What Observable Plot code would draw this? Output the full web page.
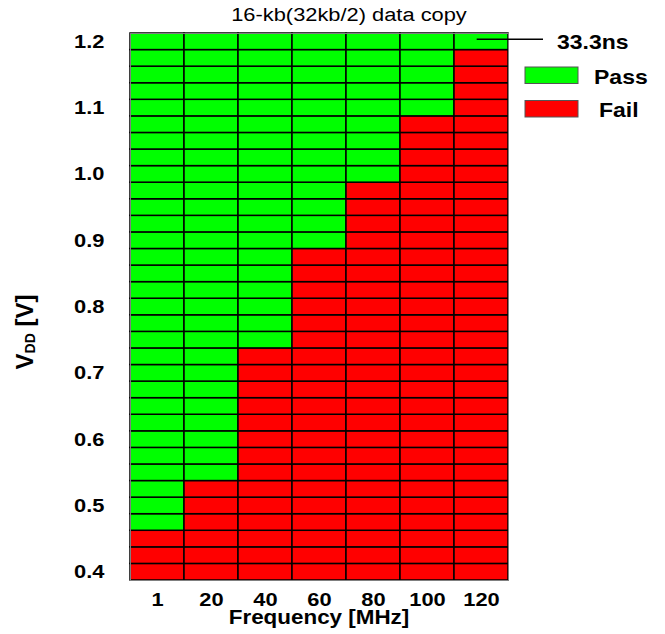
<!DOCTYPE html>
<html><head><meta charset="utf-8">
<script src="https://cdn.jsdelivr.net/npm/d3@7"></script>
<script src="https://cdn.jsdelivr.net/npm/@observablehq/plot@0.6"></script>
<style>body{margin:0;background:#fff} svg{display:block}</style>
</head><body><div id="chart"></div>
<script>
// ---- data ----
const frequencies = ["1", "20", "40", "60", "80", "100", "120"];
const voltages = [0.4, 0.425, 0.45, 0.475, 0.5, 0.525, 0.55, 0.575, 0.6, 0.625, 0.65, 0.675,
  0.7, 0.725, 0.75, 0.775, 0.8, 0.825, 0.85, 0.875, 0.9, 0.925, 0.95, 0.975,
  1.0, 1.025, 1.05, 1.075, 1.1, 1.125, 1.15, 1.175, 1.2];
const minPassVoltage = [0.475, 0.55, 0.75, 0.9, 1.0, 1.1, 1.2];
const yTickValues = [0.4, 0.5, 0.6, 0.7, 0.8, 0.9, 1.0, 1.1, 1.2];
const statusLabels = ["Pass", "Fail"];
const statusColors = ["#00ff00", "#ff0000"];
const titleText = "16-kb(32kb/2) data copy";
const xLabelText = "Frequency [MHz]";
const annotationText = "33.3ns";

const cells = [];
frequencies.forEach((f, i) => voltages.forEach(v =>
  cells.push({freq: f, vdd: v, status: v >= minPassVoltage[i] - 1e-9 ? "Pass" : "Fail"})));

const FONT = "'Liberation Sans', Arial, sans-serif";
const chart = Plot.plot({
  width: 665, height: 634,
  marginLeft: 130, marginRight: 157, marginTop: 33, marginBottom: 54,
  style: {fontFamily: FONT, background: "#fff", color: "#000"},
  x: {type: "band", domain: frequencies, padding: 0, round: false, label: null},
  y: {type: "band", domain: voltages.slice().reverse(), padding: 0, round: false, label: null},
  color: {domain: statusLabels, range: statusColors},
  marks: [
    Plot.cell(cells, {x: "freq", y: "vdd", fill: "status", stroke: "#000", strokeWidth: 1.5}),
    Plot.frame({stroke: "#808080", strokeWidth: 1}),
    Plot.axisX({tickSize: 0, tickPadding: 12, fontSize: 19, fontWeight: "bold", label: null}),
    Plot.axisY({ticks: yTickValues, tickFormat: d => d.toFixed(1), tickSize: 0, tickPadding: 26,
      fontSize: 19, fontWeight: "bold", label: null})
  ]
});

const svg = d3.select(chart);
const xs = chart.scale("x"), ys = chart.scale("y");
const plotLeft = 130, plotRight = 665 - 157;
const topRowMid = ys.apply(1.2) + ys.bandwidth / 2;
const lastColLeft = xs.apply("120");

// annotation
svg.append("line")
  .attr("x1", lastColLeft + xs.bandwidth * 0.42).attr("x2", plotRight + 35)
  .attr("y1", topRowMid - 2).attr("y2", topRowMid - 2)
  .attr("stroke", "#000").attr("stroke-width", 1.5);
const extra = svg.append("g").attr("font-family", FONT).attr("text-anchor", "start");
extra.append("text").attr("transform", `translate(${plotRight + 49},${topRowMid + 8})`)
  .attr("font-size", 20).attr("font-weight", "bold").text(annotationText);

// legend
statusLabels.forEach((s, i) => {
  const yy = 67 + i * 33.5;
  extra.append("rect").attr("x", plotRight + 17).attr("y", yy).attr("width", 53).attr("height", 16.5)
    .attr("fill", statusColors[i]).attr("stroke", "#555").attr("stroke-width", 1);
  extra.append("text").attr("transform", `translate(${plotRight + 86 + (i ? 5 : 0)},${yy + 16.5})`)
    .attr("font-size", 20).attr("font-weight", "bold").text(s);
});

// title
extra.append("text").attr("transform", `translate(${(plotLeft + plotRight) / 2 + 30},21)`)
  .attr("text-anchor", "middle").attr("font-size", 19).text(titleText);

// x label
extra.append("text").attr("transform", `translate(${(plotLeft + plotRight) / 2},624)`)
  .attr("text-anchor", "middle").attr("font-size", 19.5).attr("font-weight", "bold").text(xLabelText);

// y label
const yl = svg.append("text").attr("font-family", FONT).attr("font-weight", "bold").attr("font-size", 24)
  .attr("text-anchor", "middle").attr("transform", "translate(33,332) rotate(-90)");
yl.append("tspan").text("V");
yl.append("tspan").attr("font-size", 14).attr("dy", 2).text("DD");
yl.append("tspan").attr("dy", -2).text(" [V]");

// horizontal stretch of horizontal texts around their anchor (reference glyphs are wide)
svg.selectAll("text").each(function() {
  if (this === yl.node()) return;
  const t = this.getAttribute("transform");
  if (t) this.setAttribute("transform", t + " scale(1.15,1)");
});

document.getElementById("chart").appendChild(chart);
</script>
</body></html>
